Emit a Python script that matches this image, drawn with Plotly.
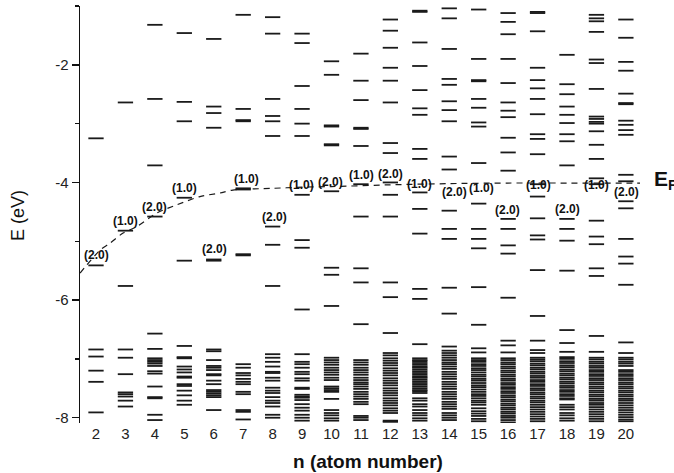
import plotly.graph_objects as go

# ---------------- data ----------------
atom_numbers = list(range(2, 21))

levels_n2 = [-3.25, -5.41, -6.84, -6.96, -7.20, -7.39, -7.91]
levels_n3 = [-2.64, -4.82, -5.76, -6.84, -6.98, -7.26, -7.57, -7.60, -7.64, -7.71, -7.81]
levels_n4 = [-1.32, -2.58, -3.71, -4.58, -6.57, -6.83, -6.99, -7.02, -7.05, -7.08, -7.12,
             -7.21, -7.25, -7.47, -7.65, -7.67, -7.95, -8.04]
levels_n5 = [-1.46, -2.63, -2.96, -4.26, -5.33, -6.78, -6.97, -6.99, -7.13, -7.18, -7.23,
             -7.30, -7.32, -7.43, -7.46, -7.54, -7.62, -7.71, -7.78]
levels_n6 = [-1.56, -2.71, -2.82, -3.07, -5.31, -5.33, -6.84, -6.87, -7.02, -7.12, -7.15,
             -7.19, -7.26, -7.28, -7.37, -7.43, -7.53, -7.56, -7.59, -7.62, -7.65, -7.87]
levels_n7 = [-1.15, -2.75, -2.94, -2.96, -4.10, -4.12, -5.22, -5.24, -7.09, -7.15, -7.24,
             -7.28, -7.34, -7.39, -7.43, -7.56, -7.60, -7.87, -7.90, -8.03]
levels_n8 = [-1.19, -1.47, -2.58, -2.87, -2.96, -3.21, -4.75, -5.06, -5.76, -6.92, -6.98,
             -7.05, -7.13, -7.22, -7.24, -7.32, -7.37, -7.49, -7.54, -7.58, -7.65, -7.71,
             -7.75, -7.81, -7.95, -8.00]
levels_n9 = [-1.47, -1.63, -2.36, -2.75, -3.00, -3.21, -4.21, -4.98, -5.11, -6.16, -6.92,
             -7.05, -7.09, -7.15, -7.22, -7.26, -7.33, -7.37, -7.49, -7.51, -7.61, -7.64,
             -7.66, -7.70, -7.77, -7.83, -7.88, -7.95, -8.00, -8.05]
levels_n10 = [-1.94, -2.17, -3.03, -3.05, -3.35, -3.37, -4.15, -5.45, -5.57, -6.10, -6.98,
              -7.02, -7.06, -7.10, -7.15, -7.19, -7.23, -7.27, -7.32, -7.36, -7.47, -7.50,
              -7.53, -7.56, -7.68, -7.87, -7.92, -7.96, -8.01, -8.05]
levels_n11 = [-1.81, -2.27, -2.60, -3.07, -3.09, -3.38, -4.03, -4.58, -5.46, -5.70, -6.41,
              -7.02, -7.06, -7.10, -7.15, -7.19, -7.23, -7.27, -7.32, -7.36, -7.40, -7.43,
              -7.47, -7.51, -7.56, -7.60, -7.64, -7.68, -7.73, -7.77, -7.97, -8.00, -8.04]
levels_n12 = [-1.23, -1.42, -1.71, -2.05, -2.27, -2.64, -3.33, -3.50, -4.00, -4.21, -4.58,
              -5.70, -5.95, -6.56, -6.90, -6.94, -6.99, -7.03, -7.07, -7.11, -7.16, -7.20,
              -7.24, -7.28, -7.33, -7.37, -7.41, -7.45, -7.50, -7.54, -7.58, -7.62, -7.67,
              -7.71, -7.75, -7.79, -7.84, -7.88, -7.92, -8.05, -8.07]
levels_n13 = [-1.08, -1.10, -1.62, -2.02, -2.43, -2.74, -2.85, -3.43, -3.60, -4.17, -4.45,
              -4.87, -5.81, -5.98, -6.75, -6.99, -7.02, -7.04, -7.07, -7.10, -7.13, -7.15,
              -7.18, -7.21, -7.24, -7.27, -7.30, -7.32, -7.35, -7.38, -7.41, -7.44, -7.47,
              -7.50, -7.53, -7.55, -7.58, -7.67, -7.71, -7.77, -7.81, -7.87, -7.92, -7.96,
              -8.01, -8.05]
levels_n14 = [-1.04, -1.21, -1.73, -2.24, -2.34, -2.62, -2.77, -2.96, -3.56, -3.78, -4.48,
              -4.79, -4.96, -5.79, -6.23, -6.79, -6.86, -6.90, -6.94, -6.98, -7.02, -7.06,
              -7.09, -7.13, -7.17, -7.22, -7.26, -7.30, -7.34, -7.39, -7.43, -7.47, -7.51,
              -7.56, -7.60, -7.64, -7.68, -7.73, -7.77, -7.81, -7.85, -7.92, -7.96, -8.00,
              -8.04]
levels_n15 = [-1.06, -1.90, -2.26, -2.28, -2.58, -2.73, -2.98, -3.05, -3.67, -4.36, -4.79,
              -4.96, -5.12, -5.78, -6.42, -6.82, -6.89, -6.99, -7.02, -7.05, -7.09, -7.12,
              -7.16, -7.19, -7.23, -7.27, -7.30, -7.34, -7.37, -7.41, -7.45, -7.48, -7.52,
              -7.56, -7.60, -7.63, -7.67, -7.71, -7.74, -7.78, -7.84, -7.89, -7.93, -7.97,
              -8.02, -8.06]
levels_n16 = [-1.12, -1.27, -1.48, -1.90, -2.31, -2.64, -2.78, -2.89, -3.24, -3.49, -3.80,
              -4.62, -4.79, -5.07, -5.21, -5.96, -6.69, -6.77, -6.89, -6.99, -7.02, -7.06,
              -7.09, -7.13, -7.16, -7.20, -7.23, -7.27, -7.30, -7.34, -7.37, -7.41, -7.44,
              -7.48, -7.51, -7.55, -7.58, -7.62, -7.65, -7.69, -7.72, -7.76, -7.79, -7.83,
              -7.86, -7.90, -7.93, -7.97, -8.00, -8.04, -8.08]
levels_n17 = [-1.10, -1.12, -1.43, -2.05, -2.26, -2.40, -2.58, -2.84, -3.18, -3.26, -3.52,
              -4.03, -4.24, -4.61, -4.90, -4.97, -5.49, -6.27, -6.69, -6.85, -6.90, -6.98,
              -7.01, -7.04, -7.08, -7.11, -7.15, -7.18, -7.22, -7.25, -7.29, -7.32, -7.36,
              -7.39, -7.43, -7.46, -7.50, -7.53, -7.57, -7.60, -7.64, -7.67, -7.71, -7.74,
              -7.78, -7.82, -7.86, -7.90, -7.94, -7.98, -8.02, -8.06]
levels_n18 = [-1.83, -2.33, -2.50, -2.71, -2.85, -2.99, -3.18, -3.30, -3.71, -4.62, -4.79,
              -4.99, -5.50, -6.51, -6.73, -6.88, -6.97, -7.00, -7.04, -7.07, -7.11, -7.14,
              -7.18, -7.21, -7.25, -7.28, -7.32, -7.35, -7.39, -7.42, -7.46, -7.49, -7.53,
              -7.56, -7.60, -7.63, -7.67, -7.69, -7.78, -7.82, -7.86, -7.92, -7.96, -8.01,
              -8.05]
levels_n19 = [-1.15, -1.21, -1.26, -1.44, -1.91, -1.97, -2.41, -2.88, -2.92, -2.97, -3.00,
              -3.13, -3.36, -3.60, -3.93, -4.03, -4.65, -4.92, -5.05, -5.46, -5.59, -6.61,
              -6.88, -6.98, -7.01, -7.05, -7.08, -7.12, -7.15, -7.19, -7.22, -7.26, -7.29,
              -7.33, -7.36, -7.40, -7.43, -7.47, -7.50, -7.54, -7.57, -7.61, -7.64, -7.68,
              -7.71, -7.75, -7.78, -7.82, -7.86, -7.90, -7.94, -7.98, -8.02, -8.06]
levels_n20 = [-1.23, -1.54, -1.95, -2.10, -2.49, -2.65, -2.67, -2.95, -3.02, -3.11, -3.19,
              -3.87, -3.98, -4.32, -4.44, -4.96, -5.26, -5.38, -5.74, -6.72, -6.90, -6.98,
              -7.01, -7.05, -7.08, -7.12, -7.19, -7.22, -7.26, -7.29, -7.33, -7.36, -7.40,
              -7.43, -7.47, -7.50, -7.54, -7.57, -7.61, -7.64, -7.68, -7.71, -7.75, -7.79,
              -7.83, -7.87, -7.91, -7.95, -7.99, -8.03, -8.06]

all_levels = [levels_n2, levels_n3, levels_n4, levels_n5, levels_n6, levels_n7, levels_n8,
              levels_n9, levels_n10, levels_n11, levels_n12, levels_n13, levels_n14,
              levels_n15, levels_n16, levels_n17, levels_n18, levels_n19, levels_n20]

# occupation labels of the HOMO
label_x = [2.02, 2.99, 4.0, 5.0, 6.04, 7.11, 8.05, 8.99, 9.98, 11.03, 12.0, 13.0,
           14.18, 15.10, 15.99, 17.02, 18.02, 19.01, 20.03]
label_y = [-5.23, -4.66, -4.41, -4.10, -5.13, -3.94, -4.59, -4.04, -3.99, -3.88, -3.85,
           -4.02, -4.16, -4.10, -4.47, -4.04, -4.45, -4.04, -4.16]
label_text = ["(2.0)", "(1.0)", "(2.0)", "(1.0)", "(2.0)", "(1.0)", "(2.0)", "(1.0)",
              "(2.0)", "(1.0)", "(2.0)", "(1.0)", "(2.0)", "(1.0)", "(2.0)", "(1.0)",
              "(2.0)", "(1.0)", "(2.0)"]

# Fermi level guide (dashed)
ef_n = [1.46, 2.14, 2.48, 2.92, 3.39, 4.07, 4.75, 5.53, 6.21, 6.65, 8.0, 9.0, 10.0,
        12.0, 14.0, 16.0, 18.0, 20.0, 20.65]
ef_e = [-5.54, -5.15, -5.03, -4.86, -4.75, -4.52, -4.38, -4.24, -4.18, -4.13, -4.10,
        -4.08, -4.07, -4.04, -4.02, -4.01, -4.01, -4.01, -4.01]

y_tick_vals = [-8, -6, -4, -2]
y_tick_text = ["-8", "-6", "-4", "-2"]
y_minor_vals = [-7, -5, -3, -1]

# ---------------- figure ----------------
FONT = "Liberation Sans, Arial, sans-serif"
HALF = 0.26

xs, ys = [], []
for n, lv in zip(atom_numbers, all_levels):
    for e in lv:
        xs += [n - HALF, n + HALF, None]
        ys += [e, e, None]

fig = go.Figure()
fig.add_trace(go.Scatter(x=xs, y=ys, mode="lines",
                         line=dict(color="#1a1a1a", width=1.8),
                         hoverinfo="skip", showlegend=False))
fig.add_trace(go.Scatter(x=ef_n, y=ef_e, mode="lines", cliponaxis=False,
                         line=dict(color="#1a1a1a", width=1.2, dash="6px,5px",
                                   shape="spline", smoothing=0.8),
                         hoverinfo="skip", showlegend=False))

annotations = []
for lx, ly, lt in zip(label_x, label_y, label_text):
    annotations.append(dict(x=lx, y=ly, xref="x", yref="y", text="<b>%s</b>" % lt,
                            showarrow=False, xanchor="center", yanchor="middle",
                            font=dict(family=FONT, size=12, color="#111")))

L, R, T, B = 80, 34, 6, 50
W, H = 674 - L - R, 473 - T - B

def px_x(p):
    return (p - L) / W

def px_y(p):
    return (473 - B - p) / H

annotations.append(dict(x=px_x(652), y=px_y(180), xref="paper", yref="paper",
                        text="<b>E<sub>F</sub></b>", showarrow=False,
                        xanchor="left", yanchor="middle",
                        font=dict(family=FONT, size=21, color="#111")))
annotations.append(dict(x=px_x(368), y=px_y(461), xref="paper", yref="paper",
                        text="<b>n (atom number)</b>", showarrow=False,
                        xanchor="center", yanchor="middle",
                        font=dict(family=FONT, size=19, color="#111")))
annotations.append(dict(x=px_x(18), y=px_y(216), xref="paper", yref="paper",
                        text="E (eV)", showarrow=False, textangle=-90,
                        xanchor="center", yanchor="middle",
                        font=dict(family=FONT, size=18, color="#111")))

fig.update_layout(
    width=674, height=473,
    margin=dict(l=L, r=R, t=T, b=B),
    paper_bgcolor="white", plot_bgcolor="white",
    showlegend=False,
    hovermode=False,
    annotations=annotations,
    xaxis=dict(range=[1.4565, 20.48], tickmode="array", tickvals=atom_numbers,
               ticktext=[str(n) for n in atom_numbers], showline=False, ticks="",
               showgrid=False, zeroline=False,
               tickfont=dict(family=FONT, size=15, color="#222")),
    yaxis=dict(range=[-8.09, -1.0], tickmode="array", tickvals=y_tick_vals,
               ticktext=y_tick_text, showline=True, linecolor="#111", linewidth=1.5,
               ticks="outside", ticklen=7, tickwidth=1.5, tickcolor="#111",
               minor=dict(tickvals=y_minor_vals, ticks="outside", ticklen=4,
                          tickwidth=1.5, tickcolor="#111"),
               showgrid=False, zeroline=False,
               tickfont=dict(family=FONT, size=15, color="#222")),
)

fig.write_html("out.html", config={"displayModeBar": False, "staticPlot": True},
               post_script="document.body.style.margin='0';document.body.style.overflow='hidden';")
